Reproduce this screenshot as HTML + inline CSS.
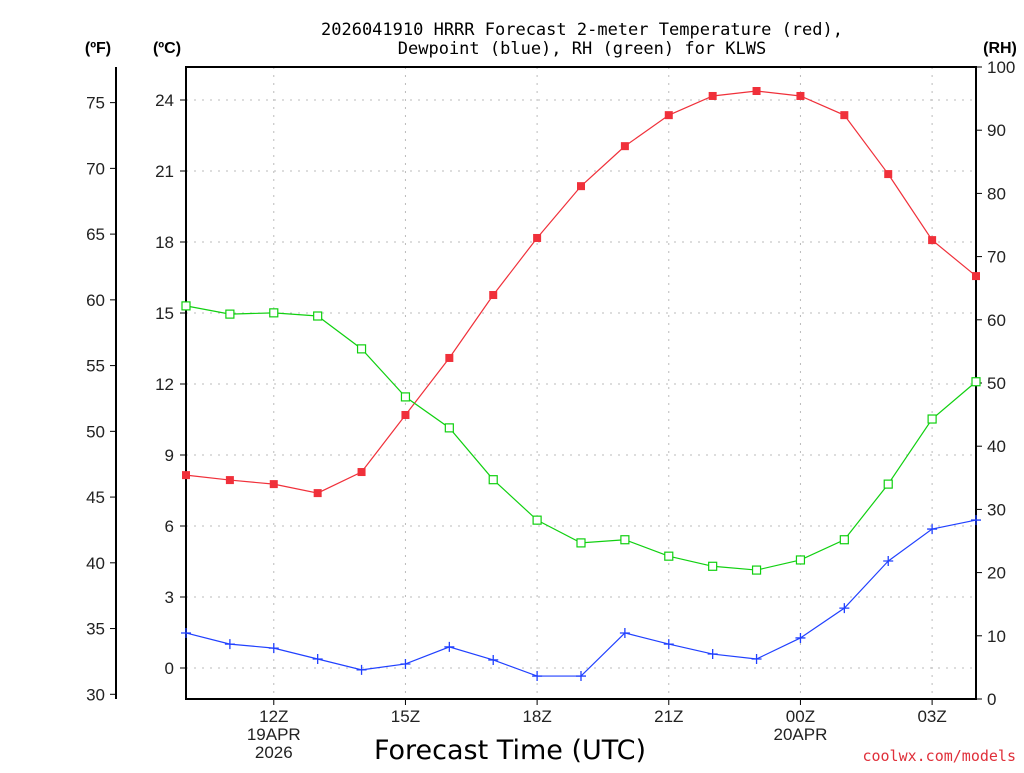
<!DOCTYPE html>
<html><head><meta charset="utf-8"><style>
body{margin:0;background:#fff;}
svg text{font-family:"Liberation Sans",sans-serif;}
svg text.mono{font-family:"DejaVu Sans Mono","Liberation Mono",monospace;}
svg text.dv{font-family:"DejaVu Sans",sans-serif;}
</style></head><body>
<svg id="c" width="1024" height="768" xmlns="http://www.w3.org/2000/svg">
<text class="mono" x="582" y="35" font-size="17" text-anchor="middle">2026041910 HRRR Forecast 2-meter Temperature (red),</text>
<text class="mono" x="582" y="54" font-size="17" text-anchor="middle">Dewpoint (blue), RH (green) for KLWS</text>
<text x="98" y="53" font-size="16" font-weight="bold" text-anchor="middle">(ºF)</text>
<text x="167" y="53" font-size="16" font-weight="bold" text-anchor="middle">(ºC)</text>
<text x="1000" y="53" font-size="16" font-weight="bold" text-anchor="middle">(RH)</text>
<text class="dv" x="510" y="759" font-size="27" text-anchor="middle">Forecast Time (UTC)</text>
<text class="mono" x="1016" y="761" font-size="15" fill="#e0303a" text-anchor="end">coolwx.com/models</text>
<g id="g"></g>
</svg>
<script>
const hours=["10Z","11Z","12Z","13Z","14Z","15Z","16Z","17Z","18Z","19Z","20Z","21Z","22Z","23Z","00Z","01Z","02Z","03Z","04Z"];
const tempC=[8.15,7.94,7.77,7.39,8.28,10.69,13.1,15.76,18.17,20.36,22.05,23.36,24.17,24.38,24.17,23.36,20.87,18.08,16.56];
const dewC=[1.48,1.01,0.84,0.38,-0.08,0.17,0.89,0.34,-0.34,-0.34,1.48,1.01,0.59,0.38,1.27,2.53,4.52,5.87,6.25];
const rh=[62.2,60.9,61.1,60.6,55.4,47.8,42.9,34.7,28.3,24.7,25.2,22.6,21.0,20.4,22.0,25.2,34.0,44.3,50.2];
const cTicks=[0,3,6,9,12,15,18,21,24];
const fTicks=[30,35,40,45,50,55,60,65,70,75];
const rhTicks=[0,10,20,30,40,50,60,70,80,90,100];
const xLabels=[{i:2,t:["12Z","19APR","2026"]},{i:5,t:["15Z"]},{i:8,t:["18Z"]},{i:11,t:["21Z"]},{i:14,t:["00Z","20APR"]},{i:17,t:["03Z"]}];
const L=186,R=976,T=67,B=699;
const x=i=>L+i*(R-L)/(hours.length-1);
const yC=c=>668-c*(668-100)/24;
const yF=f=>yC((f-32)*5/9);
const yR=r=>B-r*(B-T)/100;
const g=document.getElementById('g');
const NS="http://www.w3.org/2000/svg";
function mk(tag,a,parent){const e=document.createElementNS(NS,tag);for(const k in a)e.setAttribute(k,a[k]);(parent||g).appendChild(e);return e;}
cTicks.forEach(c=>{const e=mk('line',{x1:L,x2:R,y1:yC(c),y2:yC(c),stroke:'#bbb','stroke-dasharray':'2,6'});


const tk=mk('line',{x1:L-6,x2:L,y1:yC(c),y2:yC(c),stroke:'#000'});


const t=mk('text',{x:L-12,y:yC(c)+6,'font-size':17,'text-anchor':'end',fill:'#222'});t.textContent=c;

});
xLabels.forEach(o=>{const e=mk('line',{x1:x(o.i),x2:x(o.i),y1:T,y2:B,stroke:'#bbb','stroke-dasharray':'2,6'});


const tk=mk('line',{x1:x(o.i),x2:x(o.i),y1:B,y2:B+6,stroke:'#000'});


o.t.forEach((s,k)=>{const t=mk('text',{x:x(o.i),y:B+23+k*18,'font-size':17,'text-anchor':'middle',fill:'#222'});t.textContent=s;

});});
const fa=mk('line',{x1:116,x2:116,y1:T,y2:B,stroke:'#000','stroke-width':2});


fTicks.forEach(f=>{const tk=mk('line',{x1:110,x2:116,y1:yF(f),y2:yF(f),stroke:'#000'});


const t=mk('text',{x:105,y:yF(f)+6,'font-size':17,'text-anchor':'end',fill:'#222'});t.textContent=f;

});
rhTicks.forEach(r=>{const tk=mk('line',{x1:R,x2:R+6,y1:yR(r),y2:yR(r),stroke:'#000'});


const t=mk('text',{x:R+11,y:yR(r)+6,'font-size':17,fill:'#222'});t.textContent=r;

});
const fr=mk('rect',{x:L,y:T,width:R-L,height:B-T,fill:'none',stroke:'#000','stroke-width':2});


function series(vals,yf,color,marker,name){
 const p=mk('polyline',{points:vals.map((v,i)=>x(i)+','+yf(v)).join(' '),fill:'none',stroke:color,'stroke-width':1.2});
 
 
 vals.forEach((v,i)=>{const cx=x(i),cy=yf(v);let m;
  if(marker==='sq')m=mk('rect',{x:cx-4,y:cy-4,width:8,height:8,fill:color});
  else if(marker==='open')m=mk('rect',{x:cx-4,y:cy-4,width:8,height:8,fill:'#fff',stroke:color,'stroke-width':1.2});
  else m=mk('path',{d:`M${cx-5} ${cy}H${cx+5}M${cx} ${cy-5}V${cy+5}`,stroke:color,'stroke-width':1.3});
  
  });
}
series(tempC,yC,'#f0303a','sq','temperature');
series(dewC,yC,'#2040ff','plus','dewpoint');
series(rh,yR,'#10d010','open','rh');
</script>
</body></html>
